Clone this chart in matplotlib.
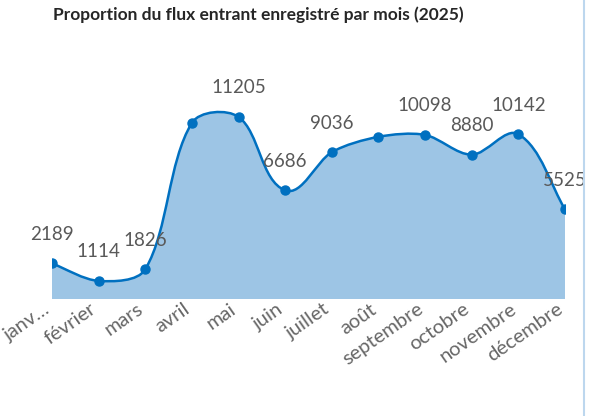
import numpy as np
import matplotlib.pyplot as plt
import matplotlib.transforms as mtransforms
from matplotlib.path import Path
from matplotlib.patches import PathPatch
from matplotlib.lines import Line2D

plt.rcParams['font.family'] = ['Lato', 'DejaVu Sans']

# données
mois = ['janv…', 'février', 'mars', 'avril', 'mai', 'juin', 'juillet',
        'août', 'septembre', 'octobre', 'novembre', 'décembre']
flux = [2189, 1114, 1826, 10840, 11205, 6686, 9036, 9980, 10098, 8880, 10142, 5525]
# Excel masque les étiquettes qui se chevauchent (avril, août)
etiquette = [True, True, True, False, True, True, True, False, True, True, True, True]

titre = 'Proportion du flux entrant enregistré par mois (2025)'

x = np.arange(len(flux), dtype=float)
y = np.array(flux, dtype=float)

fig = plt.figure(figsize=(5.98, 4.16), dpi=100)
ax = fig.add_axes([52 / 598, 117 / 416, 513 / 598, 195 / 416])
ax.set_xlim(0, 11)
ax.set_ylim(0, 12000)


def courbe_lissee(x, y, k=0.3):
    # lissage à la Excel : poignées proportionnelles aux segments, en pixels
    P = ax.transData.transform(np.column_stack([x, y]))
    n = len(P)
    tang = np.zeros_like(P)
    for i in range(n):
        a = P[max(i - 1, 0)]
        b = P[min(i + 1, n - 1)]
        d = b - a
        tang[i] = d / np.hypot(*d)
    verts = [P[0]]
    codes = [Path.MOVETO]
    for i in range(n - 1):
        L = np.hypot(*(P[i + 1] - P[i]))
        c1 = P[i] + tang[i] * L * k
        c2 = P[i + 1] - tang[i + 1] * L * k
        verts += [c1, c2, P[i + 1]]
        codes += [Path.CURVE4] * 3
    verts = ax.transData.inverted().transform(np.array(verts))
    return [tuple(v) for v in verts], codes


verts, codes = courbe_lissee(x, y)
zone = Path(verts + [(x[-1], 0), (x[0], 0), (x[0], 0)],
            codes + [Path.LINETO, Path.LINETO, Path.CLOSEPOLY])
ax.add_patch(PathPatch(zone, facecolor='#9DC5E5', edgecolor='none'))
ax.add_patch(PathPatch(Path(verts, codes), facecolor='none', edgecolor='#0070C0', lw=1.8))
ax.plot(x, y, 'o', color='#0070C0', markersize=6.5, zorder=3)

for xi, v, montrer in zip(x, flux, etiquette):
    if montrer:
        ax.annotate(str(v), (xi, v), xytext=(0, 17), textcoords='offset points',
                    ha='center', va='baseline', fontsize=13.5, color='#595959')

ax.set_xticks(x)
ax.set_xticklabels(mois, rotation=35, ha='right', va='center', rotation_mode='anchor',
                   fontsize=14.5, color='#666666')
ax.tick_params(axis='x', length=0, pad=6)
decal = mtransforms.ScaledTranslation(-4 / 100, 0, fig.dpi_scale_trans)
for lab in ax.get_xticklabels():
    lab.set_transform(lab.get_transform() + decal)
ax.set_yticks([])
for s in ax.spines.values():
    s.set_visible(False)

fig.text(258 / 598, 1 - 20 / 416, titre, ha='center', va='baseline',
         fontsize=12.5, fontweight='bold', color='#262626')

fig.add_artist(Line2D([584 / 598, 584 / 598], [0, 1], transform=fig.transFigure,
                      color='#BDD7EE', lw=1.5))

fig.savefig('out.png', dpi=100)
